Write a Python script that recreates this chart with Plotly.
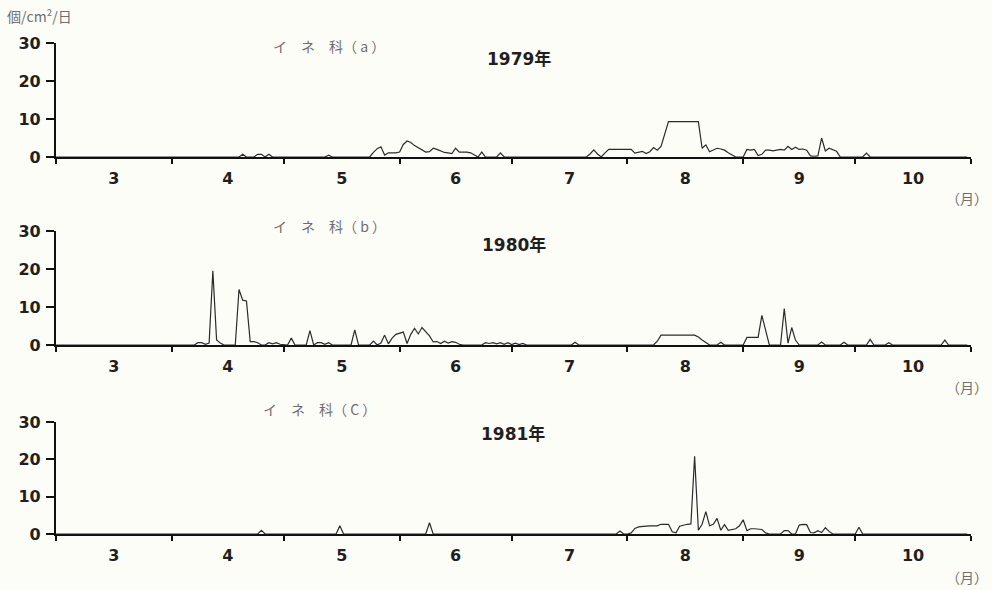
import plotly.graph_objects as go

# ---------------- data (daily pollen counts, 個/cm²/日) ----------------
days_1979 = ["03-01", "04-19", "04-20", "04-21", "04-23", "04-24", "04-25", "04-26", "04-27", "04-28",
             "05-12", "05-13", "05-14", "05-24", "05-25", "05-26", "05-27", "05-28", "05-29", "05-30",
             "05-31", "06-01", "06-02", "06-03", "06-04", "06-05", "06-06", "06-07", "06-08", "06-09",
             "06-10", "06-11", "06-12", "06-13", "06-14", "06-15", "06-16", "06-17", "06-18", "06-19",
             "06-20", "06-21", "06-22", "06-23", "06-24", "06-27", "06-28", "06-29", "07-21", "07-22",
             "07-23", "07-24", "07-25", "07-26", "07-27", "07-28", "07-29", "07-30", "07-31", "08-01",
             "08-02", "08-03", "08-04", "08-05", "08-06", "08-07", "08-08", "08-09", "08-10", "08-11",
             "08-12", "08-13", "08-14", "08-15", "08-16", "08-17", "08-18", "08-19", "08-20", "08-21",
             "08-22", "08-23", "08-24", "08-25", "08-26", "08-27", "08-28", "08-29", "08-30", "09-01",
             "09-02", "09-03", "09-04", "09-05", "09-06", "09-07", "09-08", "09-09", "09-10", "09-11",
             "09-12", "09-13", "09-14", "09-15", "09-16", "09-17", "09-18", "09-19", "09-20", "09-21",
             "09-22", "09-23", "09-24", "09-25", "09-26", "09-27", "10-03", "10-04", "10-05", "10-31"]
counts_1979 = [0, 0, 0.7, 0, 0, 0.7, 0.7, 0, 0.7, 0,
               0, 0.5, 0, 0, 1.2, 2.2, 2.7, 0.5, 1.1, 1.1,
               1.1, 1.3, 3.3, 4.2, 3.8, 3.0, 2.4, 1.7, 1.3, 1.4,
               2.3, 2.0, 1.5, 1.2, 1.1, 0.9, 2.3, 1.3, 1.3, 1.3,
               1.1, 0.6, 0, 1.3, 0, 0, 1.1, 0, 0, 0.8,
               1.9, 0.8, 0, 1.1, 2.0, 2.0, 2.0, 2.0, 2.0, 2.0,
               2.0, 1.0, 1.2, 1.5, 0.9, 1.4, 2.5, 1.8, 2.8, 5.8,
               9.3, 9.3, 9.3, 9.3, 9.3, 9.3, 9.3, 9.3, 9.3, 2.3,
               3.2, 1.4, 1.8, 2.3, 2.1, 1.8, 1.1, 0.5, 0, 0,
               2.0, 1.8, 2.0, 0.4, 0.7, 1.8, 1.8, 1.6, 1.8, 2.0,
               1.8, 2.8, 2.0, 2.6, 2.0, 2.1, 1.8, 0.3, 0.2, 0.3,
               5.0, 1.6, 2.3, 1.8, 1.5, 0, 0, 1.0, 0, 0]

days_1980 = ["03-01", "04-07", "04-08", "04-09", "04-10", "04-11", "04-12", "04-13", "04-14", "04-15",
             "04-18", "04-19", "04-20", "04-21", "04-22", "04-23", "04-24", "04-25", "04-26", "04-27",
             "04-28", "04-29", "04-30", "05-01", "05-02", "05-03", "05-04", "05-07", "05-08", "05-09",
             "05-10", "05-11", "05-12", "05-13", "05-14", "05-19", "05-20", "05-21", "05-24", "05-25",
             "05-26", "05-27", "05-28", "05-29", "05-30", "05-31", "06-01", "06-02", "06-03", "06-04",
             "06-05", "06-06", "06-07", "06-08", "06-09", "06-10", "06-11", "06-12", "06-13", "06-14",
             "06-15", "06-16", "06-17", "06-18", "06-23", "06-24", "06-25", "06-26", "06-27", "06-28",
             "06-29", "06-30", "07-01", "07-02", "07-03", "07-04", "07-05", "07-17", "07-18", "07-19",
             "08-08", "08-09", "08-10", "08-19", "08-20", "08-21", "08-22", "08-23", "08-25", "08-26",
             "08-27", "09-01", "09-02", "09-05", "09-06", "09-07", "09-08", "09-11", "09-12", "09-13",
             "09-14", "09-15", "09-16", "09-21", "09-22", "09-23", "09-27", "09-28", "09-29", "10-04",
             "10-05", "10-06", "10-09", "10-10", "10-11", "10-24", "10-25", "10-26", "10-31"]
counts_1980 = [0, 0, 0.6, 0.6, 0.2, 0.5, 19.5, 1.3, 0.5, 0,
               0, 14.6, 11.8, 11.6, 0.9, 0.9, 0.6, 0, 0, 0.6,
               0.3, 0.6, 0.2, 0, 0, 1.8, 0, 0, 3.8, 0,
               0.6, 0.6, 0.2, 0.6, 0, 0, 4.0, 0, 0, 1.0,
               0, 0.5, 2.6, 0.3, 1.8, 2.8, 3.2, 3.4, 0.4, 2.8,
               4.4, 2.9, 4.6, 3.4, 2.4, 0.8, 0.9, 0.4, 1.0, 0.5,
               0.9, 0.7, 0.2, 0, 0, 0.6, 0.4, 0.6, 0.3, 0.6,
               0.2, 0.6, 0.1, 0.5, 0.1, 0.4, 0, 0, 0.7, 0,
               0, 1.0, 2.6, 2.6, 2.1, 1.3, 0.6, 0, 0, 0.7,
               0, 0, 2.0, 2.0, 7.8, 3.9, 0, 0, 9.6, 0.5,
               4.6, 1.3, 0, 0, 0.8, 0, 0, 0.7, 0, 0,
               1.5, 0, 0, 0.6, 0, 0, 1.3, 0, 0]

days_1981 = ["03-01", "04-24", "04-25", "04-26", "05-15", "05-16", "05-17", "06-08", "06-09", "06-10",
             "07-29", "07-30", "07-31", "08-01", "08-02", "08-03", "08-04", "08-05", "08-06", "08-07",
             "08-08", "08-09", "08-10", "08-11", "08-12", "08-13", "08-14", "08-15", "08-16", "08-17",
             "08-18", "08-19", "08-20", "08-21", "08-22", "08-23", "08-24", "08-25", "08-26", "08-27",
             "08-28", "08-29", "08-30", "08-31", "09-01", "09-02", "09-03", "09-04", "09-05", "09-06",
             "09-07", "09-08", "09-11", "09-12", "09-13", "09-14", "09-15", "09-16", "09-17", "09-18",
             "09-19", "09-20", "09-21", "09-22", "09-23", "09-24", "09-25", "10-01", "10-02", "10-03",
             "10-31"]
counts_1981 = [0, 0, 1.0, 0, 0, 2.2, 0, 0, 3.0, 0,
               0, 0.8, 0, 0, 0.3, 1.5, 1.9, 2.1, 2.1, 2.2,
               2.1, 2.2, 2.6, 2.6, 2.6, 0.6, 0.3, 2.1, 2.4, 2.6,
               2.7, 20.8, 1.0, 2.6, 6.0, 2.2, 2.6, 4.2, 1.0, 2.5,
               1.0, 1.2, 1.4, 2.2, 3.8, 0.9, 1.4, 1.4, 1.4, 1.2,
               0.3, 0, 0, 0.9, 0.9, 0, 0, 2.4, 2.6, 2.5,
               0.4, 0.3, 0.9, 0.4, 1.7, 0.7, 0, 0, 1.8, 0,
               0]

years = [1979, 1980, 1981]
panel_tags = ["a", "b", "C"]
series_days = [days_1979, days_1980, days_1981]
series_counts = [counts_1979, counts_1980, counts_1981]
y_ticks = [0, 10, 20, 30]

# ---------------- figure ----------------
W, H = 992, 590
M_L, M_R, M_T, M_B = 56, 21, 43, 56
PH = H - M_T - M_B


def py(pix):  # pixel row -> paper y
    return (H - M_B - pix) / PH


def px(pix):  # pixel col -> paper x
    return (pix - M_L) / (W - M_L - M_R)


# plot areas in pixels (top, bottom)
areas = [(43, 157), (231, 345), (422, 534)]

fig = go.Figure()
BOLD = dict(family="DejaVu Sans, Verdana, sans-serif", size=16, color="#1f1f1f", weight="bold")

for i, (yr, days, counts) in enumerate(zip(years, series_days, series_counts)):
    assert len(days) == len(counts)
    n = "" if i == 0 else str(i + 1)
    fig.add_trace(go.Scatter(
        x=[f"{yr}-{d}" for d in days], y=counts,
        mode="lines", line=dict(color="#2b2b2b", width=1.2),
        xaxis="x" + n, yaxis="y" + n, showlegend=False, hoverinfo="x+y"))
    top, bot = areas[i]
    fig.layout["xaxis" + n] = dict(
        type="date", range=[f"{yr}-03-01", f"{yr}-11-01"],
        anchor="y" + n, domain=[0, 1],
        tick0=f"{yr}-03-01", dtick="M1", ticklabelmode="period", tickformat="%-m",
        ticks="outside", ticklen=5, tickwidth=1.5, tickcolor="#111",
        showline=True, linecolor="#111", linewidth=2.2,
        showgrid=False, zeroline=False, tickfont=BOLD, ticklabelstandoff=1)
    fig.layout["yaxis" + n] = dict(
        range=[0, 30], anchor="x" + n, domain=[py(bot), py(top)],
        tickvals=y_ticks, ticks="outside", ticklen=8, tickwidth=1.5, tickcolor="#111",
        showline=True, linecolor="#111", linewidth=2.2,
        showgrid=False, zeroline=False, tickfont=BOLD, ticklabelstandoff=2)

GRAY = "#6e6e6e"
SERIF = "Noto Sans CJK JP, sans-serif"
ann = [
    dict(text="個/cm²/日", x=px(5), y=py(16), xanchor="left", font=dict(family=SERIF, size=14, color=GRAY)),
]
label_pos = [((329, 46), (519, 59), (990, 198)),
             ((329, 226), (514, 245), (990, 387)),
             ((319, 409), (513, 434), (990, 577))]
for tag, yr, (lab, ttl, mon) in zip(panel_tags, years, label_pos):
    ann.append(dict(text=f"イ　ネ　科（ {tag} ）", x=px(lab[0]), y=py(lab[1]), xanchor="center",
                    font=dict(family=SERIF, size=14, color=GRAY)))
    ann.append(dict(text=f"{yr}年", x=px(ttl[0]), y=py(ttl[1]), xanchor="center",
                    font=dict(family="DejaVu Sans, Noto Sans CJK JP, sans-serif", size=17,
                              color="#1f1f1f", weight="bold")))
    ann.append(dict(text="（月）", x=px(mon[0]), y=py(mon[1]), xanchor="right",
                    font=dict(family=SERIF, size=14, color=GRAY)))
for a in ann:
    a.update(xref="paper", yref="paper", yanchor="middle", showarrow=False)

fig.update_layout(
    width=W, height=H, margin=dict(l=M_L, r=M_R, t=M_T, b=M_B),
    paper_bgcolor="#fdfdf8", plot_bgcolor="rgba(0,0,0,0)",
    annotations=ann, showlegend=False)

fig.write_html("out.html", config={"displayModeBar": False},
               post_script="document.body.style.margin='0';document.body.style.overflow='hidden';")
